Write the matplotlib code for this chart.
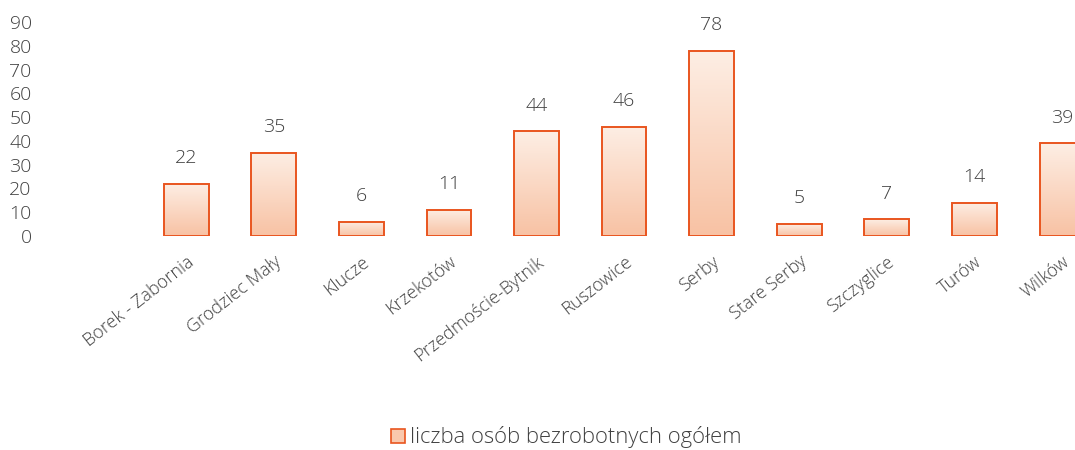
import numpy as np
import matplotlib.pyplot as plt
from matplotlib.colors import LinearSegmentedColormap
from matplotlib.patches import Patch

plt.rcParams['font.family'] = ['Open Sans', 'DejaVu Sans']
plt.rcParams['font.weight'] = 'light'

# data
villages = ["Borek - Zabornia", "Grodziec Mały", "Klucze", "Krzekotów",
            "Przedmoście-Bytnik", "Ruszowice", "Serby", "Stare Serby",
            "Szczyglice", "Turów", "Wilków"]
unemployed = [22, 35, 6, 11, 44, 46, 78, 5, 7, 14, 39]
series_name = "liczba osób bezrobotnych ogółem"
y_ticks = [0, 10, 20, 30, 40, 50, 60, 70, 80, 90]

text_col = "#404040"
edge_col = "#e9551f"
grad = LinearSegmentedColormap.from_list("peach", ["#f8c2a4", "#fdeee4"])

fig = plt.figure(figsize=(10.75, 4.5), dpi=100)
ax = fig.add_axes([40 / 1075, 214 / 450, 1 - 40 / 1075, 214 / 450])

x = np.arange(len(villages))
width = 0.51
gradient = np.linspace(0, 1, 100).reshape(-1, 1)

# gradient fill for every bar, outline drawn on top
for xi, v in zip(x, unemployed):
    ax.imshow(gradient, cmap=grad, origin="lower", aspect="auto",
              extent=(xi - width / 2, xi + width / 2, 0, v), zorder=2)
    ax.text(xi, v + 7, str(v), ha="center", va="bottom",
            fontsize=14, color=text_col)

ax.bar(x, unemployed, width=width, facecolor="none", edgecolor=edge_col,
       linewidth=1.4, zorder=3)

ax.set_xlim(-1.67, 10.15)
ax.set_ylim(0, 90)
ax.set_yticks(y_ticks)
ax.set_xticks(x)
ax.set_xticklabels(villages, rotation=38, ha="right", rotation_mode="anchor",
                   fontsize=13)
ax.tick_params(axis="both", length=0, labelcolor=text_col)
ax.tick_params(axis="y", pad=6, labelsize=14)
ax.tick_params(axis="x", pad=12)
for s in ax.spines.values():
    s.set_visible(False)

handle = Patch(facecolor="#f9c8ad", edgecolor=edge_col, linewidth=1.2)
fig.legend([handle], [series_name], loc="center", bbox_to_anchor=(0.527, 0.028),
           frameon=False, fontsize=15.8, labelcolor=text_col,
           handlelength=0.6, handleheight=0.6, handletextpad=0.25)

fig.savefig("out.png", dpi=100)
